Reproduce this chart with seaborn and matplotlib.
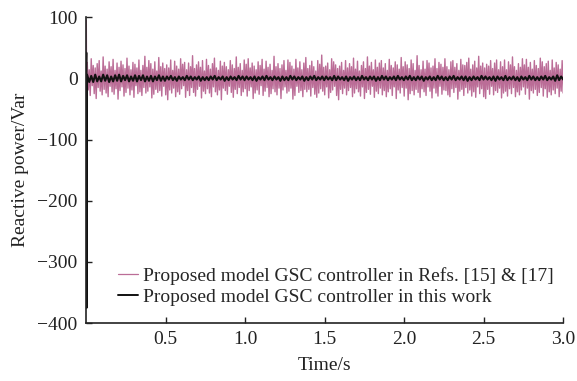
import numpy as np
import pandas as pd
import matplotlib
matplotlib.use("Agg")
import matplotlib.pyplot as plt
import seaborn as sns

# Start-up transient (first few milliseconds)
t_start = [0.0, 0.002, 0.004, 0.006]
ref_start = [0, 95, -20, 10]
work_start = [0, 42, -375, 6]

# Steady-state reactive power, Refs. [15] & [17] controller (0.008 s .. 3.0 s)
ref_q = [
    26, -19, 14, -28, 32, -12, 21, -25, 17, -33, 24, -15, 29, -21, 12, -27, 35, -18, 20, -24,
    15, -30, 27, -13, 19, -22, 31, -26, 13, -17, 25, -34, 18, -20, 28, -14, 22, -29, 16, -23,
    33, -16, 20, -27, 14, -19, 26, -31, 23, -12, 17, -25, 30, -22, 13, -28, 21, -15, 36, -24,
    18, -21, 29, -14, 24, -32, 15, -26, 27, -18, 12, -23, 34, -20, 19, -29, 25, -13, 16, -27,
    22, -35, 17, -19, 30, -24, 13, -16, 28, -30, 20, -22, 15, -26, 32, -17, 23, -12, 26, -31,
    14, -20, 25, -28, 19, -15, 37, -23, 16, -29, 22, -18, 27, -13, 18, -32, 29, -21, 12, -25,
    31, -17, 21, -24, 15, -30, 24, -14, 33, -22, 17, -27, 13, -19, 28, -35, 20, -16, 26, -20,
    19, -26, 14, -13, 29, -23, 22, -31, 16, -18, 35, -25, 18, -15, 24, -28, 13, -22, 30, -17,
    23, -29, 32, -20, 17, -14, 25, -33, 20, -24, 14, -19, 27, -26, 21, -12, 31, -28, 15, -21,
    28, -15, 18, -30, 23, -25, 13, -17, 36, -22, 19, -27, 24, -16, 16, -33, 22, -19, 29, -14,
    13, -24, 30, -21, 26, -16, 20, -34, 15, -28, 31, -13, 17, -23, 27, -20, 14, -30, 25, -18,
    34, -22, 16, -18, 21, -29, 28, -15, 19, -26, 12, -31, 29, -24, 23, -17, 38, -21, 18, -27,
    20, -14, 25, -32, 14, -23, 32, -19, 27, -13, 22, -28, 16, -35, 20, -18, 26, -25, 13, -16,
    29, -27, 17, -20, 24, -15, 19, -30, 33, -24, 15, -17, 28, -22, 12, -29, 21, -14, 27, -33,
    16, -23, 35, -18, 20, -26, 26, -13, 14, -31, 30, -21, 18, -25, 25, -16, 29, -27, 17, -20,
    24, -30, 13, -22, 31, -17, 21, -28, 17, -14, 27, -33, 22, -19, 15, -24, 34, -15, 19, -29,
    27, -16, 22, -35, 16, -25, 30, -20, 24, -27, 13, -18, 37, -23, 21, -31, 14, -17, 28, -22,
    15, -28, 29, -14, 25, -21, 17, -32, 20, -16, 32, -24, 16, -29, 26, -13, 23, -26, 18, -19,
    32, -20, 19, -27, 14, -30, 27, -17, 29, -23, 18, -15, 24, -34, 13, -21, 31, -18, 22, -28,
    21, -15, 26, -24, 33, -19, 15, -29, 22, -22, 28, -31, 17, -14, 36, -25, 20, -17, 25, -30,
    17, -33, 23, -18, 20, -26, 29, -13, 16, -27, 25, -20, 30, -23, 14, -16, 27, -32, 19, -24,
    30, -21, 14, -29, 27, -17, 22, -25, 35, -15, 19, -30, 13, -22, 24, -27, 18, -19, 32, -14,
    22, -26, 31, -16, 18, -34, 26, -20, 15, -24, 29, -18, 21, -28, 16, -23, 33, -15, 27, -29,
    19, -17, 24, -31, 28, -22, 13, -27, 30, -19, 17, -25, 26, -16, 22, -30, 15, -21, 29, -24,
]

# Steady-state reactive power, proposed controller (0.008 s .. 3.0 s)
work_q = [
    5, -6, 4, -6, 6, -5, 3, -5, 6, -4, 5, -6, 3, -5, 5, -4, 6, -5, 4, -3,
    5, -5, 3, -4, 5, -5, 4, -3, 5, -5, 3, -4, 4, -5, 3, -3, 5, -4, 3, -4,
    3, -2, 4, -3, 2, -4, 3, -2, 2, -3, 4, -2, 3, -3, 2, -2, 3, -4, 2, -3,
    2, -3, 3, -2, 4, -3, 2, -2, 3, -4, 2, -3, 3, -2, 2, -3, 4, -2, 3, -3,
    3, -2, 2, -3, 3, -4, 2, -2, 3, -3, 4, -2, 2, -3, 3, -2, 2, -4, 3, -3,
    2, -3, 4, -2, 3, -3, 2, -2, 3, -4, 2, -3, 3, -2, 4, -3, 2, -2, 3, -3,
    3, -2, 2, -3, 4, -3, 3, -2, 2, -3, 3, -4, 2, -2, 3, -3, 2, -3, 4, -2,
    2, -3, 3, -2, 3, -4, 2, -3, 4, -2, 3, -3, 2, -2, 3, -3, 4, -2, 2, -3,
    3, -2, 4, -3, 2, -3, 3, -2, 3, -4, 2, -2, 3, -3, 2, -3, 4, -2, 3, -3,
    2, -3, 3, -2, 4, -3, 2, -2, 3, -3, 3, -4, 2, -3, 3, -2, 2, -3, 4, -2,
    3, -2, 2, -3, 3, -4, 3, -2, 2, -3, 4, -3, 2, -2, 3, -3, 2, -4, 3, -2,
    2, -3, 4, -2, 3, -3, 2, -3, 3, -2, 4, -3, 2, -2, 3, -4, 5, -3, 3, -2,
]

labels = ["Proposed model GSC controller in Refs. [15] & [17]",
          "Proposed model GSC controller in this work"]
x_ticks = [0.5, 1.0, 1.5, 2.0, 2.5, 3.0]
y_ticks = [100, 0, -100, -200, -300, -400]

t_ref = np.concatenate([t_start, np.linspace(0.008, 3.0, len(ref_q))])
t_work = np.concatenate([t_start, np.linspace(0.008, 3.0, len(work_q))])

df = pd.concat([
    pd.DataFrame({"t": t_ref, "q": ref_start + ref_q, "series": labels[0]}),
    pd.DataFrame({"t": t_work, "q": work_start + work_q, "series": labels[1]}),
])

sns.set_theme(style="ticks")
plt.rcParams["font.family"] = ["Liberation Serif", "DejaVu Serif"]
plt.rcParams["xtick.direction"] = "in"
plt.rcParams["ytick.direction"] = "in"

fig = plt.figure(figsize=(5.77, 3.81), dpi=100)
ax = fig.add_axes([0.149, 0.152, 0.827, 0.803])

sns.lineplot(data=df, x="t", y="q", hue="series", hue_order=labels,
             palette=["#bb6d97", "#111111"], estimator=None, sort=False,
             ax=ax)
for ln, lw in zip(ax.lines, [1.0, 1.5]):
    ln.set_linewidth(lw)

ax.set_xlim(0, 3.0)
ax.set_ylim(-400, 100)
ax.set_xticks(x_ticks)
ax.set_xticklabels([f"{v:.1f}" for v in x_ticks])
ax.set_yticks(y_ticks)
ax.set_yticklabels([str(v).replace("-", "\u2212") for v in y_ticks])
ax.tick_params(labelsize=14, length=4, width=1, colors="#222222", pad=6)
ax.set_xlabel("Time/s", fontsize=14, color="#222222", labelpad=6)
ax.set_ylabel("Reactive power/Var", fontsize=14, color="#222222", labelpad=6)
sns.despine(ax=ax)
for s in ["left", "bottom"]:
    ax.spines[s].set_linewidth(1.2)
    ax.spines[s].set_color("#222222")

leg = ax.legend(loc="lower left", bbox_to_anchor=(0.03, 0.0), frameon=False,
                fontsize=14, handlelength=1.05, handletextpad=0.25,
                labelspacing=0.15, borderaxespad=0.5)
for h, lw in zip(leg.get_lines(), [0.9, 1.4]):
    h.set_linewidth(lw)

fig.savefig("out.png", dpi=100)
